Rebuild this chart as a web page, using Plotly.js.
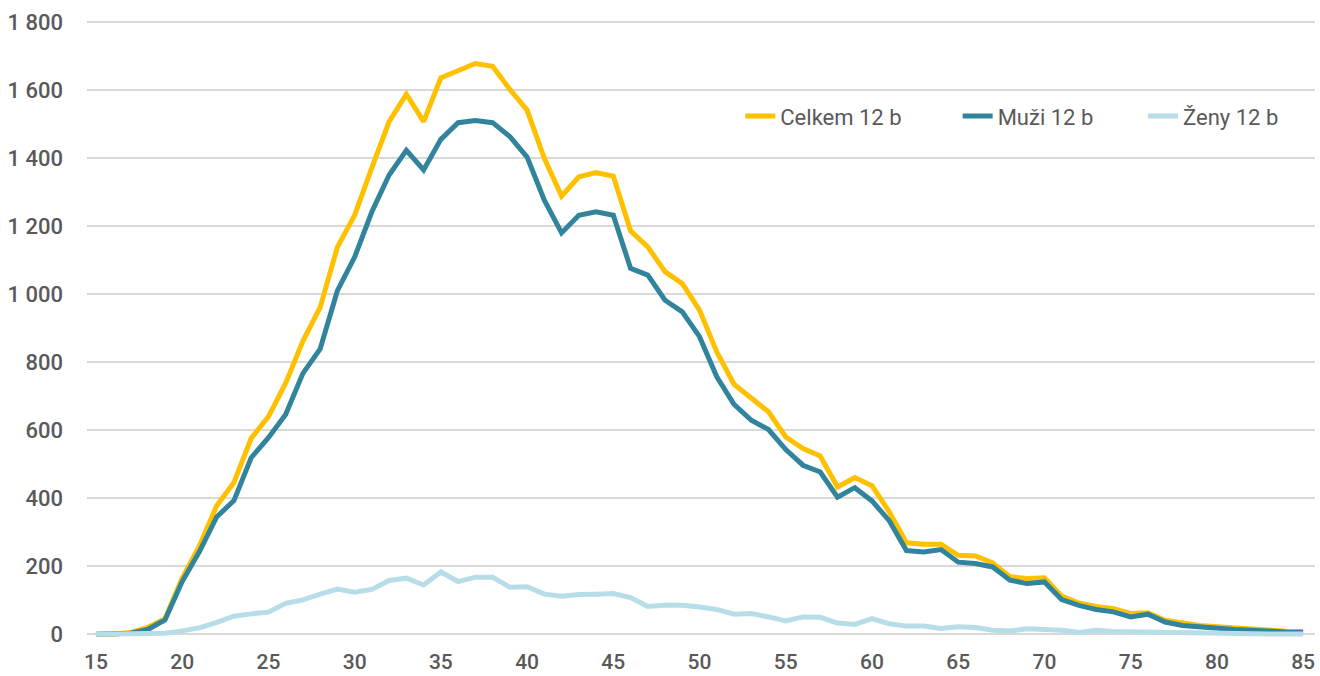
<!DOCTYPE html>
<html>
<head>
<meta charset="utf-8">
<script src="https://cdn.plot.ly/plotly-3.0.1.min.js"></script>
<style>
  html, body { margin: 0; padding: 0; background: #fff; }
  #chart { width: 1320px; height: 676px; }
</style>
</head>
<body>
<div id="chart"></div>
<script>
  // age 15..85
  const ages = [];
  for (let a = 15; a <= 85; a++) ages.push(a);

  const celkem = [
    0, 0, 5, 20, 46, 165, 260, 378, 446, 576,
    640, 738, 862, 961, 1138, 1232, 1372, 1507, 1588, 1507,
    1636, 1656, 1678, 1670, 1602, 1541, 1399, 1288, 1345, 1357,
    1347, 1186, 1139, 1066, 1031, 953, 830, 735, 693, 654,
    580, 546, 524, 433, 461, 437, 360, 269, 265, 265,
    232, 230, 210, 169, 164, 166, 112, 92, 82, 75,
    61, 63, 41, 33, 26, 22, 18, 16, 11, 9, 8
  ];
  const muzi = [
    0, 0, 3, 14, 42, 155, 243, 345, 393, 519,
    578, 646, 767, 839, 1010, 1109, 1242, 1350, 1423, 1365,
    1455, 1504, 1510, 1504, 1463, 1403, 1276, 1180, 1232, 1242,
    1232, 1076, 1056, 982, 948, 875, 757, 676, 629, 602,
    543, 497, 477, 403, 431, 392, 334, 246, 242, 249,
    212, 208, 198, 159, 149, 154, 102, 85, 73, 66,
    51, 59, 36, 26, 21, 18, 14, 12, 8, 7, 6
  ];
  const zeny = [
    0, 0, 0, 0, 3, 10, 19, 35, 53, 60,
    65, 91, 101, 118, 133, 124, 132, 158, 165, 145,
    183, 155, 168, 168, 138, 140, 118, 112, 117, 118,
    120, 108, 82, 85, 85, 80, 73, 59, 61, 51,
    39, 51, 50, 33, 29, 46, 31, 24, 24, 17,
    22, 20, 12, 10, 16, 14, 12, 5, 12, 8,
    7, 5, 4, 3, 3, 2, 2, 1, 1, 1, 1
  ];

  const seriesNames = ['Celkem 12 b', 'Muži 12 b', 'Ženy 12 b'];
  const seriesColors = ['#FFC000', '#31849B', '#B7DEE8'];
  const legendIds = ['legend', 'legend2', 'legend3'];
  const yTicks = [0, 200, 400, 600, 800, 1000, 1200, 1400, 1600, 1800];
  const xTicks = [15, 20, 25, 30, 35, 40, 45, 50, 55, 60, 65, 70, 75, 80, 85];

  const traces = [celkem, muzi, zeny].map((ys, i) => ({
    x: ages, y: ys, type: 'scatter', mode: 'lines',
    name: seriesNames[i], legend: legendIds[i],
    line: { color: seriesColors[i], width: 5 }
  }));

  const baseFont = { family: 'Roboto, sans-serif', size: 22, color: '#595959' };
  const yTickFont = { family: 'Roboto, sans-serif', size: 22, color: '#595959', weight: 500 };
  const xTickFont = { family: 'Roboto, sans-serif', size: 21, color: '#595959', weight: 500 };

  // one legend per series so the gaps match the original
  const mkLegend = (x) => ({
    orientation: 'h', x: x, y: 0.836, xanchor: 'left', yanchor: 'middle',
    font: { family: 'Roboto, sans-serif', size: 22, color: '#595959', weight: 'normal' },
    bgcolor: 'rgba(0,0,0,0)', itemwidth: 30
  });

  Plotly.newPlot('chart', traces, {
    width: 1320, height: 676,
    margin: { l: 87, r: 5, t: 14, b: 39 },
    paper_bgcolor: '#fff', plot_bgcolor: '#fff',
    separators: ', ',
    font: baseFont,
    xaxis: {
      range: [14.48, 85.69],
      tickvals: xTicks,
      showgrid: false, zeroline: false, showline: false,
      ticks: '', tickfont: xTickFont, ticklabelstandoff: 10
    },
    yaxis: {
      range: [-8, 1823.5],
      tickvals: yTicks, tickformat: ',d',
      gridcolor: '#d9d9d9', gridwidth: 2,
      zeroline: false, showline: false,
      ticks: '', tickfont: yTickFont, ticklabelstandoff: 23,
      automargin: false
    },
    showlegend: true,
    legend: mkLegend(0.532),
    legend2: mkLegend(0.709),
    legend3: mkLegend(0.860)
  }, { displayModeBar: false, staticPlot: true });
</script>
</body>
</html>
